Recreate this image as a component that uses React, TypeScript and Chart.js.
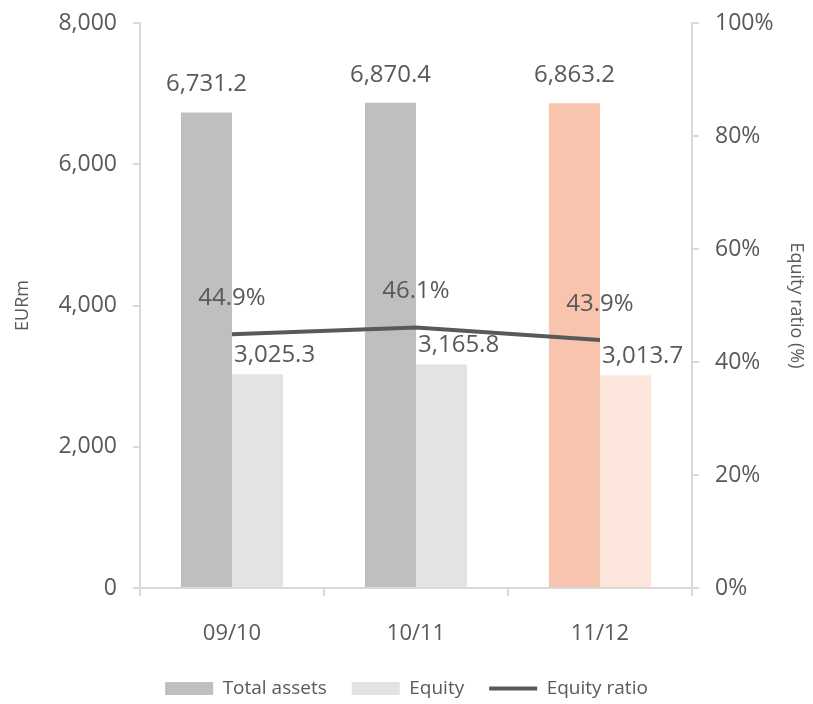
import React, { useEffect, useRef } from "react";
import { Chart, registerables } from "chart.js";

Chart.register(...registerables);

const categories = ["09/10", "10/11", "11/12"];
const totalAssets = [6731.2, 6870.4, 6863.2];
const equity = [3025.3, 3165.8, 3013.7];
const equityRatio = [44.9, 46.1, 43.9];
const leftTicks = [0, 2000, 4000, 6000, 8000];
const rightTicks = [0, 20, 40, 60, 80, 100];

const totalColors = ["#bfbfbf", "#bfbfbf", "#f8c4ae"];
const equityColors = ["#e3e3e3", "#e3e3e3", "#fce6dc"];
const lineColor = "#595959";
const textColor = "#595959";
const axisColor = "#d9d9d9";
const FONT = "'Open Sans', 'Noto Sans', sans-serif";

const fmt = (v: number) =>
  v.toLocaleString("en-US", { minimumFractionDigits: 1, maximumFractionDigits: 1 });

const labelPlugin = {
  id: "valueLabels",
  afterDatasetsDraw(chart: any) {
    const ctx = chart.ctx;
    ctx.save();
    ctx.fillStyle = textColor;
    ctx.font = `24px ${FONT}`;
    ctx.textBaseline = "middle";
    chart.data.datasets.forEach((ds: any, di: number) => {
      const meta = chart.getDatasetMeta(di);
      meta.data.forEach((el: any, i: number) => {
        const v = ds.data[i];
        if (di === 0) {
          ctx.textAlign = "center";
          ctx.fillText(fmt(v), el.x, el.y - 28);
        } else if (di === 1) {
          ctx.textAlign = "left";
          ctx.fillText(fmt(v), el.x - el.width / 2 + 2, el.y - 19);
        } else {
          ctx.textAlign = "center";
          ctx.fillText(fmt(v) + "%", el.x, el.y - 36);
        }
      });
    });
    ctx.restore();
  },
};

export default function App() {
  const ref = useRef<HTMLCanvasElement | null>(null);
  useEffect(() => {
    document.body.style.margin = "0";
    const chart = new Chart(ref.current as HTMLCanvasElement, {
      type: "bar",
      data: {
        labels: categories,
        datasets: [
          {
            label: "Total assets",
            data: totalAssets,
            backgroundColor: totalColors,
            yAxisID: "y",
            order: 2,
          },
          {
            label: "Equity",
            data: equity,
            backgroundColor: equityColors,
            yAxisID: "y",
            order: 2,
          },
          {
            type: "line",
            label: "Equity ratio",
            data: equityRatio,
            borderColor: lineColor,
            backgroundColor: lineColor,
            borderWidth: 4,
            pointRadius: 0,
            yAxisID: "y1",
            order: 1,
          } as any,
        ],
      },
      options: {
        animation: false,
        responsive: false,
        layout: { padding: { top: 23, left: 0, right: 0, bottom: -4 } },
        datasets: {
          bar: { categoryPercentage: 0.555, barPercentage: 1.0 },
        } as any,
        plugins: {
          tooltip: { enabled: false },
          legend: {
            position: "bottom",
            labels: {
              usePointStyle: true,
              pointStyleWidth: 48,
              boxHeight: 13,
              padding: 25,
              color: textColor,
              font: { family: FONT, size: 19 },
              generateLabels: () => [
                { text: "Total assets", fillStyle: totalColors[0], strokeStyle: totalColors[0], lineWidth: 0, pointStyle: "rect", fontColor: textColor, datasetIndex: 0 },
                { text: "Equity", fillStyle: equityColors[0], strokeStyle: equityColors[0], lineWidth: 0, pointStyle: "rect", fontColor: textColor, datasetIndex: 1 },
                { text: "Equity ratio", fillStyle: lineColor, strokeStyle: lineColor, lineWidth: 4, pointStyle: "line", fontColor: textColor, datasetIndex: 2 },
              ] as any,
            },
          },
        },
        scales: {
          x: {
            offset: true,
            grid: {
              offset: true,
              drawOnChartArea: false,
              drawTicks: true,
              tickLength: 8,
              color: axisColor,
              lineWidth: 2,
            },
            border: { color: axisColor, width: 2 },
            ticks: { color: textColor, font: { family: FONT, size: 22 }, padding: 25 },
            afterFit: (s: any) => { s.height = 66; },
          },
          y: {
            position: "left",
            min: 0,
            max: 8000,
            afterBuildTicks: (s: any) => { s.ticks = leftTicks.map((v) => ({ value: v })); },
            grid: { drawOnChartArea: false, tickLength: 7, color: axisColor, lineWidth: 2 },
            border: { color: axisColor, width: 2 },
            ticks: {
              color: textColor,
              font: { family: FONT, size: 23, lineHeight: 0.6 },
              padding: 16,
              callback: (v: any) => Number(v).toLocaleString("en-US"),
            },
            title: {
              display: true,
              text: "EURm",
              color: textColor,
              font: { family: FONT, size: 18 },
              padding: { top: 12, bottom: 0 },
            },
            afterFit: (s: any) => { s.width = 140; },
          },
          y1: {
            position: "right",
            min: 0,
            max: 100,
            afterBuildTicks: (s: any) => { s.ticks = rightTicks.map((v) => ({ value: v })); },
            grid: { drawOnChartArea: false, tickLength: 7, color: axisColor, lineWidth: 2 },
            border: { color: axisColor, width: 2 },
            ticks: {
              color: textColor,
              font: { family: FONT, size: 23, lineHeight: 0.6 },
              padding: 16,
              callback: (v: any) => v + "%",
            },
            title: {
              display: true,
              text: "Equity ratio (%)",
              color: textColor,
              font: { family: FONT, size: 18 },
              padding: { top: 6, bottom: 0 },
            },
            afterFit: (s: any) => { s.width = 121; },
          },
        },
      },
      plugins: [labelPlugin],
    });
    return () => chart.destroy();
  }, []);
  return (
    <div style={{ width: 813, height: 704 }}>
      <canvas ref={ref} width={813} height={704} />
    </div>
  );
}
